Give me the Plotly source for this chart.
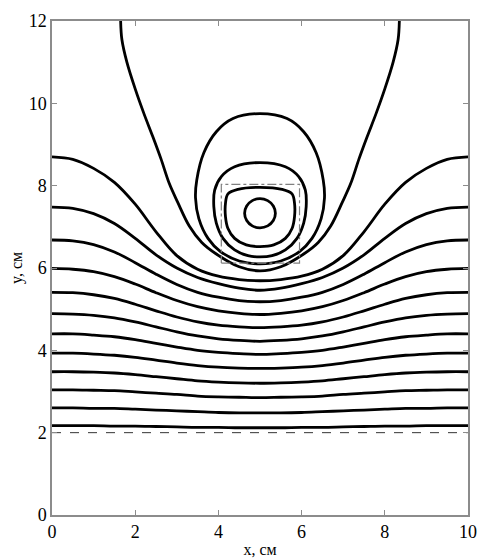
"""Isolines around a source at (5, 7.3) above a plane at y = 2 cm."""

import plotly.graph_objects as go

# x positions shared by the open, left-to-right isolines (cm)
X_GRID = [0, 0.5, 1, 1.5, 2, 2.5, 3, 3.5, 4, 4.5, 5,
          5.5, 6, 6.5, 7, 7.5, 8, 8.5, 9, 9.5, 10]

# y values of each open isoline on X_GRID, bottom to top (cm)
LINE_01 = [2.17, 2.17, 2.17, 2.16, 2.16, 2.15, 2.14, 2.13, 2.13, 2.12, 2.12,
           2.12, 2.13, 2.13, 2.14, 2.15, 2.16, 2.16, 2.17, 2.17, 2.17]
LINE_02 = [2.60, 2.60, 2.59, 2.59, 2.57, 2.55, 2.53, 2.51, 2.49, 2.48, 2.48,
           2.48, 2.49, 2.51, 2.53, 2.55, 2.57, 2.59, 2.59, 2.60, 2.60]
LINE_03 = [3.04, 3.04, 3.03, 3.02, 2.99, 2.96, 2.93, 2.89, 2.87, 2.86, 2.85,
           2.86, 2.87, 2.89, 2.93, 2.96, 2.99, 3.02, 3.03, 3.04, 3.04]
LINE_04 = [3.48, 3.48, 3.47, 3.45, 3.41, 3.36, 3.31, 3.26, 3.23, 3.21, 3.20,
           3.21, 3.23, 3.26, 3.31, 3.36, 3.41, 3.45, 3.47, 3.48, 3.48]
LINE_05 = [3.93, 3.93, 3.91, 3.88, 3.83, 3.76, 3.69, 3.63, 3.59, 3.57, 3.56,
           3.57, 3.59, 3.63, 3.69, 3.76, 3.83, 3.88, 3.91, 3.93, 3.93]
LINE_06 = [4.40, 4.40, 4.37, 4.33, 4.26, 4.17, 4.08, 4.00, 3.95, 3.92, 3.90,
           3.92, 3.95, 4.00, 4.08, 4.17, 4.26, 4.33, 4.37, 4.40, 4.40]
LINE_07 = [4.89, 4.88, 4.85, 4.79, 4.69, 4.57, 4.45, 4.35, 4.28, 4.24, 4.22,
           4.24, 4.28, 4.35, 4.45, 4.57, 4.69, 4.79, 4.85, 4.88, 4.89]
LINE_08 = [5.41, 5.40, 5.35, 5.26, 5.12, 4.96, 4.81, 4.69, 4.61, 4.57, 4.55,
           4.57, 4.61, 4.69, 4.81, 4.96, 5.12, 5.26, 5.35, 5.40, 5.41]
LINE_09 = [5.99, 5.97, 5.91, 5.79, 5.61, 5.40, 5.21, 5.06, 4.96, 4.90, 4.87,
           4.90, 4.96, 5.06, 5.21, 5.40, 5.61, 5.79, 5.91, 5.97, 5.99]
LINE_10 = [6.68, 6.66, 6.57, 6.39, 6.13, 5.85, 5.60, 5.41, 5.29, 5.21, 5.18,
           5.21, 5.29, 5.41, 5.60, 5.85, 6.13, 6.39, 6.57, 6.66, 6.68]
LINE_11 = [7.48, 7.45, 7.32, 7.08, 6.72, 6.32, 6.00, 5.77, 5.62, 5.51, 5.46,
           5.51, 5.62, 5.77, 6.00, 6.32, 6.72, 7.08, 7.32, 7.45, 7.48]
LINE_12 = [8.70, 8.64, 8.42, 8.08, 7.55, 6.88, 6.30, 5.97, 5.80, 5.72, 5.69,
           5.72, 5.80, 5.97, 6.30, 6.88, 7.55, 8.08, 8.42, 8.64, 8.70]

# U-shaped isoline that leaves through the top edge
U_X = [1.65, 1.68, 1.80, 2.00, 2.21, 2.42, 2.62, 2.82, 3.02, 3.30, 3.60, 3.95, 4.50, 5.00,
       5.50, 6.05, 6.40, 6.70, 6.98, 7.18, 7.38, 7.58, 7.79, 8.00, 8.20, 8.32, 8.35]
U_Y = [12.0, 11.55, 11.0, 10.35, 9.75, 9.20, 8.65, 8.05, 7.60, 7.02, 6.62, 6.34, 6.03, 5.93,
       6.03, 6.34, 6.62, 7.02, 7.60, 8.05, 8.65, 9.20, 9.75, 10.35, 11.0, 11.55, 12.0]

# closed isolines around the source, outer to inner
OVAL_X = [5.00, 4.35, 3.95, 3.65, 3.48, 3.45, 3.53, 3.75, 4.05, 4.50, 5.00,
          5.50, 5.95, 6.25, 6.47, 6.55, 6.52, 6.35, 6.05, 5.65, 5.00]
OVAL_Y = [9.75, 9.63, 9.31, 8.80, 8.14, 7.70, 7.20, 6.72, 6.40, 6.17, 6.10,
          6.17, 6.40, 6.72, 7.20, 7.70, 8.14, 8.80, 9.31, 9.63, 9.75]

LOOP3_X = [5.00, 4.39, 4.07, 3.91, 3.89, 3.95, 4.11, 4.39, 4.71, 5.00,
           5.29, 5.61, 5.89, 6.05, 6.11, 6.09, 5.93, 5.61, 5.00]
LOOP3_Y = [8.56, 8.46, 8.22, 7.89, 7.49, 7.09, 6.72, 6.44, 6.30, 6.27,
           6.30, 6.44, 6.72, 7.09, 7.49, 7.89, 8.22, 8.46, 8.56]

LOOP2_X = [5.00, 4.47, 4.23, 4.17, 4.17, 4.23, 4.39, 4.67, 5.00,
           5.33, 5.61, 5.77, 5.83, 5.83, 5.77, 5.53, 5.00]
LOOP2_Y = [7.96, 7.91, 7.80, 7.57, 7.25, 6.96, 6.72, 6.56, 6.52,
           6.56, 6.72, 6.96, 7.25, 7.57, 7.80, 7.91, 7.96]

CORE_X = [5.000, 4.815, 4.680, 4.630, 4.680, 4.815, 5.000,
          5.185, 5.320, 5.370, 5.320, 5.185, 5.000]
CORE_Y = [7.685, 7.637, 7.508, 7.330, 7.152, 7.023, 6.975,
          7.023, 7.152, 7.330, 7.508, 7.637, 7.685]

# dashed outline of the source region and the plane
BOX_X = [4.07, 5.95, 5.95, 4.07, 4.07]
BOX_Y = [6.12, 6.12, 8.03, 8.03, 6.12]
PLANE_X = [0, 10]
PLANE_Y = [2.0, 2.0]

X_TICKS = [0, 2, 4, 6, 8, 10]
Y_TICKS = [0, 2, 4, 6, 8, 10, 12]

FONT = "Liberation Serif, Times New Roman, serif"

fig = go.Figure()

open_lines = [LINE_01, LINE_02, LINE_03, LINE_04, LINE_05, LINE_06,
              LINE_07, LINE_08, LINE_09, LINE_10, LINE_11, LINE_12]
for ys in open_lines:
    fig.add_trace(go.Scatter(
        x=X_GRID, y=ys, mode="lines",
        line=dict(color="black", width=2.8, shape="spline", smoothing=1.0),
        hoverinfo="skip",
    ))

for xs, ys in [(U_X, U_Y), (OVAL_X, OVAL_Y), (LOOP3_X, LOOP3_Y),
               (LOOP2_X, LOOP2_Y), (CORE_X, CORE_Y)]:
    fig.add_trace(go.Scatter(
        x=xs, y=ys, mode="lines",
        line=dict(color="black", width=2.8, shape="spline", smoothing=1.0),
        hoverinfo="skip",
    ))

fig.add_trace(go.Scatter(
    x=BOX_X, y=BOX_Y, mode="lines",
    line=dict(color="#808080", width=1.2, dash="dashdot"),
    hoverinfo="skip",
))
fig.add_trace(go.Scatter(
    x=PLANE_X, y=PLANE_Y, mode="lines",
    line=dict(color="#333333", width=1, dash="dash"),
    hoverinfo="skip",
))

axis_common = dict(
    showgrid=False,
    zeroline=False,
    showline=True,
    linecolor="#8c8c8c",
    linewidth=1.5,
    mirror="ticks",
    ticks="inside",
    ticklen=5,
    tickcolor="#8c8c8c",
    automargin=False,
    tickfont=dict(family=FONT, size=18, color="black"),
)

fig.update_xaxes(
    range=[0, 10], tickvals=X_TICKS,
    title=dict(text="x, см", font=dict(family=FONT, size=16, color="black"), standoff=2),
    **axis_common,
)
fig.update_yaxes(
    range=[0, 12], tickvals=Y_TICKS,
    title=dict(text="y, см", font=dict(family=FONT, size=16, color="black"), standoff=4),
    **axis_common,
)

# the page adds an 8 px body margin, so the figure is sized to fit inside it
fig.update_layout(
    width=486,
    height=552,
    showlegend=False,
    plot_bgcolor="white",
    paper_bgcolor="white",
    margin=dict(l=44, r=26, t=13, b=45),
)

fig.write_html("out.html")
